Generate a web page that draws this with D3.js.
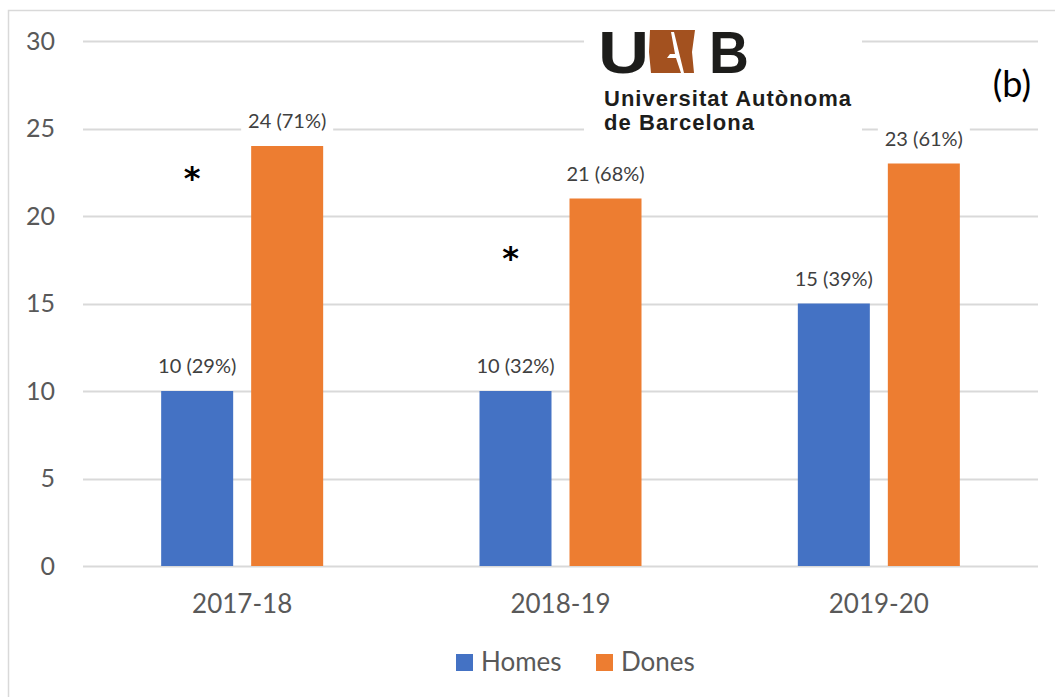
<!DOCTYPE html>
<html>
<head>
<meta charset="utf-8">
<script src="https://cdn.jsdelivr.net/npm/d3@7"></script>
<style>
  body { margin: 0; background: #fff; }
  svg { display: block; font-family: Lato, "Open Sans", sans-serif; }
</style>
</head>
<body>
<script>
// chart data
const categories = ["2017-18", "2018-19", "2019-20"];
const series = ["Homes", "Dones"];
const homes = [10, 10, 15];
const dones = [24, 21, 23];
const homesPct = [29, 32, 39];
const donesPct = [71, 68, 61];
const yTicks = [0, 5, 10, 15, 20, 25, 30];
const starCats = ["2017-18", "2018-19"];
const starLevels = [22.6, 18.0];
const panelLabel = "(b)";

const w = 1055, h = 697,
      plotL = 83, plotR = 1038,
      plotT = 41, plotB = 566;

const colors = {Homes: "#4472C4", Dones: "#ED7D31"};

const svg = d3.select("body").append("svg")
  .attr("width", w)
  .attr("height", h);

// frame
svg.append("path")
  .attr("d", `M8.5,${h} V10.5 H${w}`)
  .attr("fill", "none")
  .attr("stroke", "#D9D9D9")
  .attr("stroke-width", 1.5);

const x0 = d3.scaleBand().domain(categories).range([plotL, plotR]);
const bw = x0.bandwidth();
const x1 = d3.scaleBand().domain(series)
  .range([(bw - 162) / 2, (bw + 162) / 2])
  .paddingInner(0.2);
const y = d3.scaleLinear().domain([0, 30]).range([plotB, plotT]);

// gridlines
svg.append("g")
  .selectAll("line")
  .data(yTicks)
  .enter()
  .append("line")
  .attr("x1", plotL).attr("x2", plotR)
  .attr("y1", d => Math.round(y(d)) + 0.5)
  .attr("y2", d => Math.round(y(d)) + 0.5)
  .attr("stroke", "#D9D9D9")
  .attr("stroke-width", 2);

// y axis labels
const yAxis = d3.axisLeft(y).tickValues(yTicks).tickSize(0).tickPadding(0);
const yg = svg.append("g")
  .attr("transform", "translate(55,0)")
  .call(yAxis);
yg.select(".domain").remove();
yg.selectAll("text")
  .attr("font-size", 25)
  .attr("font-family", "Lato, sans-serif")
  .attr("fill", "#595959");

// bars
const rows = categories.map((c, i) => ({
  cat: c,
  vals: [
    {s: "Homes", v: homes[i], p: homesPct[i]},
    {s: "Dones", v: dones[i], p: donesPct[i]}
  ]
}));

const groups = svg.append("g")
  .selectAll("g")
  .data(rows)
  .enter()
  .append("g")
  .attr("transform", d => `translate(${x0(d.cat)},0)`);

groups.selectAll("rect")
  .data(d => d.vals)
  .enter()
  .append("rect")
  .attr("x", d => x1(d.s))
  .attr("width", x1.bandwidth())
  .attr("y", d => y(d.v))
  .attr("height", d => y(0) - y(d.v))
  .attr("fill", d => colors[d.s]);

// data labels with white backing
const lab = groups.selectAll("g.lab")
  .data(d => d.vals)
  .enter()
  .append("g")
  .attr("class", "lab")
  .attr("transform", d => `translate(${x1(d.s) + x1.bandwidth() / 2},${y(d.v) - 18})`);

lab.append("rect")
  .attr("x", -46).attr("y", -21)
  .attr("width", 92).attr("height", 27)
  .attr("fill", "#fff");

lab.append("text")
  .attr("text-anchor", "middle")
  .attr("font-size", 20)
  .attr("fill", "#404040")
  .text(d => `${d.v} (${d.p}%)`);

// category labels
const xAxis = d3.axisBottom(x0).tickSize(0).tickPadding(0);
const xg = svg.append("g")
  .attr("transform", `translate(0,613)`)
  .call(xAxis);
xg.select(".domain").remove();
xg.selectAll("text")
  .attr("y", 0)
  .attr("dy", 0)
  .attr("font-size", 26)
  .attr("font-family", "Lato, sans-serif")
  .attr("fill", "#595959");

// significance stars
svg.append("g")
  .selectAll("text")
  .data(starCats)
  .enter()
  .append("text")
  .attr("x", (d, i) => x0(d) + x1("Homes") + x1.bandwidth() / 2 - 5)
  .attr("y", (d, i) => y(starLevels[i]) + 18)
  .attr("text-anchor", "middle")
  .attr("font-size", 32)
  .attr("font-weight", "bold")
  .attr("font-family", "DejaVu Sans, sans-serif")
  .attr("fill", "#000")
  .text("*");

// panel label
svg.append("text")
  .attr("x", 1031).attr("y", 97)
  .attr("text-anchor", "end")
  .attr("font-size", 36)
  .attr("fill", "#000")
  .text(panelLabel);

// legend
const legend = svg.append("g")
  .selectAll("g")
  .data(series)
  .enter()
  .append("g")
  .attr("transform", (d, i) => `translate(${456 + i * 140},654)`);

legend.append("rect")
  .attr("width", 17).attr("height", 17)
  .attr("fill", d => colors[d]);

legend.append("text")
  .attr("x", 25).attr("y", 17)
  .attr("font-size", 26)
  .attr("fill", "#595959")
  .text(d => d);

// UAB logo
const logo = svg.append("g");
logo.append("rect")
  .attr("x", 584).attr("y", 12)
  .attr("width", 278).attr("height", 128)
  .attr("fill", "#fff");

logo.append("text")
  .attr("transform", "translate(598,73) scale(1.18,1)")
  .attr("font-family", "Liberation Sans, Arial, sans-serif")
  .attr("font-weight", "bold")
  .attr("font-size", 60)
  .attr("fill", "#1D1D1B")
  .text("U");

logo.append("path")
  .attr("d", "M650,30 L695,30 L692,52 L694,73 L651,73 L649,52 Z")
  .attr("fill", "#A3511F");
logo.append("path")
  .attr("d", "M671,32 L674,32 L684,73 L681,73 L676,58 L667,58 L670,54 L675,54 Z")
  .attr("fill", "#fff");

logo.append("text")
  .attr("transform", "translate(709,73) scale(0.92,1)")
  .attr("font-family", "Liberation Sans, Arial, sans-serif")
  .attr("font-weight", "bold")
  .attr("font-size", 60)
  .attr("fill", "#1D1D1B")
  .text("B");

logo.append("text")
  .attr("x", 604).attr("y", 106)
  .attr("font-family", "Liberation Sans, Arial, sans-serif")
  .attr("font-weight", "bold")
  .attr("font-size", 22)
  .attr("textLength", 247)
  .attr("fill", "#1D1D1B")
  .text("Universitat Autònoma");

logo.append("text")
  .attr("x", 604).attr("y", 130)
  .attr("font-family", "Liberation Sans, Arial, sans-serif")
  .attr("font-weight", "bold")
  .attr("font-size", 22)
  .attr("textLength", 150)
  .attr("fill", "#1D1D1B")
  .text("de Barcelona");
</script>
</body>
</html>
